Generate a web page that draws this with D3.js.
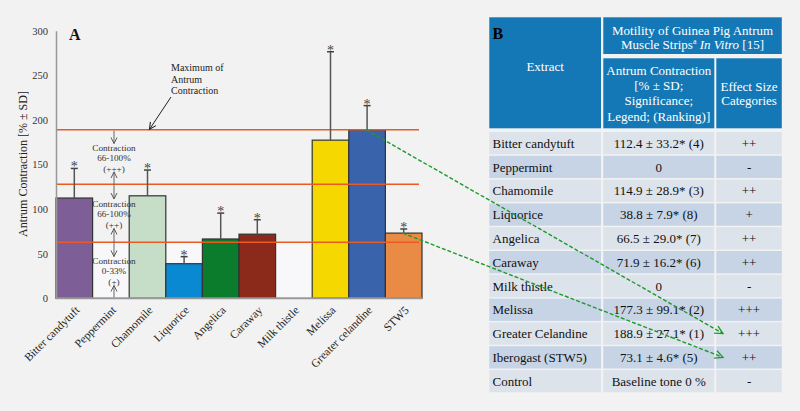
<!DOCTYPE html>
<html><head><meta charset="utf-8">
<script src="https://cdn.jsdelivr.net/npm/d3@7"></script>
<style>body{margin:0;background:#f2f2f2;} svg{display:block;}</style>
</head><body><svg id="c" width="800" height="411"></svg>
<script>
// ---- Data ----
const categories = ["Bitter candytuft","Peppermint","Chamomile","Liquorice","Angelica","Caraway","Milk thistle","Melissa","Greater celandine","STW5"];
const meanValues = [112.4, 0, 114.9, 38.8, 66.5, 71.9, 0, 177.3, 188.9, 73.1];
const sdValues   = [33.2, 0, 28.9, 7.9, 29.0, 16.2, 0, 99.1, 27.1, 4.6];
const significant = [true, false, true, true, true, true, false, true, true, true];
const barColors = ["#7e5e96","none","#c6ddc7","#0a89d3","#0b7c2c","#8b2a1a","none","#f4d800","#3963aa","#ea8b45"];
const yTicks = [0, 50, 100, 150, 200, 250, 300];
const thresholdLevels = [188.9, 127.8, 62.8];
const zoneLabels = [["Contraction","66-100%","(+++)"],["Contraction","66-100%","(++)"],["Contraction","0-33%","(+)"]];

const tableExtracts = ["Bitter candytuft","Peppermint","Chamomile","Liquorice","Angelica","Caraway","Milk thistle","Melissa","Greater Celandine","Iberogast (STW5)","Control"];
const tableContraction = ["112.4 ± 33.2* (4)","0","114.9 ± 28.9* (3)","38.8 ± 7.9* (8)","66.5 ± 29.0* (7)","71.9 ± 16.2* (6)","0","177.3 ± 99.1* (2)","188.9 ± 27.1* (1)","73.1 ± 4.6* (5)","Baseline tone 0 %"];
const tableEffect = ["++","-","++","+","++","++","-","+++","+++","++","-"];

// ---- Setup ----
const svg = d3.select("#c");
const serif = "'Liberation Serif','Times New Roman',serif";
svg.append("rect").attr("width",800).attr("height",411).attr("fill","#f2f2f2");

const defs = svg.append("defs");
function mk(id, color, size){
  defs.append("marker").attr("id",id).attr("viewBox","-10 -6 12 12")
    .attr("refX",0).attr("refY",0).attr("markerWidth",size).attr("markerHeight",size)
    .attr("markerUnits","userSpaceOnUse").attr("orient","auto-start-reverse")
    .append("path").attr("d","M-8,-4L0,0L-8,4").attr("fill","none")
    .attr("stroke",color).attr("stroke-width",1.3);
}
mk("agray","#555",9);
mk("ablack","#222",10);
mk("agreen","#1e9a2c",12);

const x = d3.scaleBand().domain(categories).range([56, 422]).padding(0);
const y = d3.scaleLinear().domain([0, 300]).range([298.3, 30.7]);
const bw = x.bandwidth();

// light lower zone
svg.append("rect").attr("x",56).attr("width",366).attr("y",y(thresholdLevels[2])).attr("height",y(0)-y(thresholdLevels[2]))
  .attr("fill","#f8f8fa");

// Bars
svg.append("g").selectAll("rect").data(categories).join("rect")
  .filter((d,i)=>meanValues[i]>0)
  .attr("x", d=>x(d)).attr("width", bw)
  .attr("y", d=>y(meanValues[categories.indexOf(d)]))
  .attr("height", d=>y(0)-y(meanValues[categories.indexOf(d)]))
  .attr("fill", d=>barColors[categories.indexOf(d)])
  .attr("stroke","#333").attr("stroke-width",1.2);

// Threshold lines
svg.append("g").selectAll("line").data(thresholdLevels).join("line")
  .attr("x1",56).attr("x2",419).attr("y1",d=>y(d)).attr("y2",d=>y(d))
  .attr("stroke","#ea5a22").attr("stroke-width",1.6);

// Error bars + stars
const eb = svg.append("g");
categories.forEach((c,i)=>{
  if(meanValues[i]<=0) return;
  const cx = x(c)+bw/2, top = y(meanValues[i]+sdValues[i]), base = y(meanValues[i]);
  eb.append("line").attr("x1",cx).attr("x2",cx).attr("y1",base).attr("y2",top).attr("stroke","#555").attr("stroke-width",1.5);
  eb.append("line").attr("x1",cx-3.5).attr("x2",cx+3.5).attr("y1",top).attr("y2",top).attr("stroke","#444").attr("stroke-width",1.5);
  if(significant[i]) eb.append("text").attr("x",cx).attr("y",top+3).attr("text-anchor","middle")
    .attr("font-family",serif).attr("font-size",14).attr("fill","#444").text("*");
});

// Axes
const ya = svg.append("g").attr("transform","translate(56,0)")
  .call(d3.axisLeft(y).tickValues(yTicks).tickSize(0).tickSizeOuter(0).tickPadding(8));
ya.select(".domain").attr("stroke","#999").attr("stroke-width",1.5);
ya.selectAll("text").attr("font-family",serif).attr("font-size",10.5).attr("fill","#333");
svg.append("line").attr("x1",56).attr("x2",422).attr("y1",y(0)).attr("y2",y(0)).attr("stroke","#999").attr("stroke-width",2);

svg.append("text").attr("transform","translate(27,164) rotate(-90)").attr("text-anchor","middle")
  .attr("font-family",serif).attr("font-size",12).attr("fill","#222").text("Antrum Contraction [% ± SD]");

svg.append("g").selectAll("text").data(categories).join("text")
  .attr("transform", d=>`translate(${x(d)+bw/2+3},${308}) rotate(-45)`)
  .attr("text-anchor","end").attr("dy","0.35em")
  .attr("font-family",serif).attr("font-size",11.5).attr("fill","#222").text(d=>d);

// Panel label A
svg.append("text").attr("x",69).attr("y",40).attr("font-family",serif).attr("font-size",16)
  .attr("font-weight","bold").attr("fill","#111").text("A");

// Maximum annotation
const maxLbl = ["Maximum of","Antrum","Contraction"];
svg.append("g").selectAll("text").data(maxLbl).join("text")
  .attr("x",171).attr("y",(d,i)=>71+i*11.5).attr("font-family",serif).attr("font-size",10).attr("fill","#222").text(d=>d);
svg.append("line").attr("x1",171).attr("y1",97).attr("x2",149.5).attr("y2",y(thresholdLevels[0])-0.5)
  .attr("stroke","#222").attr("stroke-width",1).attr("marker-end","url(#ablack)");

// Zone annotations in Peppermint slot
const zx = 114;
const zg = svg.append("g");
function arrow(y1,y2,both){
  const l = zg.append("line").attr("x1",zx).attr("x2",zx).attr("y1",y1).attr("y2",y2)
    .attr("stroke","#666").attr("stroke-width",1).attr("marker-end","url(#agray)");
  if(both) l.attr("marker-start","url(#agray)");
}
arrow(y(thresholdLevels[0])+1, 143.5, false);
arrow(172, 199, true);
arrow(228.5, 256.5, true);
arrow(y(0)-1, 285.5, false);
const zoneY = [151, 207, 264];
zoneLabels.forEach((lines,k)=>{
  lines.forEach((t,j)=>{
    zg.append("text").attr("x",zx).attr("y",zoneY[k]+j*10.3).attr("text-anchor","middle")
      .attr("font-family",serif).attr("font-size",9.2).attr("fill","#333").text(t);
  });
});

// ---- Table B ----
const colX = [489.3, 603.3, 716.3];
const colW = [111.7, 111, 65.5];
const headBlue = "#1478b6";
const tb = svg.append("g");
tb.append("rect").attr("x",colX[0]).attr("y",17.3).attr("width",colW[0]).attr("height",111).attr("fill",headBlue);
tb.append("rect").attr("x",colX[1]).attr("y",17.3).attr("width",colX[2]+colW[2]-colX[1]).attr("height",36.7).attr("fill",headBlue);
tb.append("rect").attr("x",colX[1]).attr("y",58.3).attr("width",colW[1]).attr("height",70).attr("fill",headBlue);
tb.append("rect").attr("x",colX[2]).attr("y",58.3).attr("width",colW[2]).attr("height",70).attr("fill",headBlue);

function ht(xc, yb, txt){
  return tb.append("text").attr("x",xc).attr("y",yb).attr("text-anchor","middle")
    .attr("font-family",serif).attr("font-size",13).attr("fill","#fff").text(txt);
}
tb.append("text").attr("x",492.5).attr("y",39).attr("font-family",serif).attr("font-size",16)
  .attr("font-weight","bold").attr("fill","#000").text("B");
ht(colX[0]+colW[0]/2, 71, "Extract");
const hx = colX[1] + (colX[2]+colW[2]-colX[1])/2;
ht(hx, 34.5, "Motility of Guinea Pig Antrum");
const h2 = ht(hx, 49, "");
h2.append("tspan").text("Muscle Strips");
h2.append("tspan").attr("font-size",8).attr("dy",-5).text("a");
h2.append("tspan").attr("dy",5).text(" ");
h2.append("tspan").attr("font-style","italic").text("In Vitro");
h2.append("tspan").text(" [15]");
const sub1 = ["Antrum Contraction","[% ± SD;","Significance;","Legend; (Ranking)]"];
sub1.forEach((t,j)=>ht(colX[1]+colW[1]/2, 75+j*15.2, t));
["Effect Size","Categories"].forEach((t,j)=>ht(colX[2]+colW[2]/2, 90.5+j*14.5, t));

const rowY0 = 132, rowStep = 23.8, rowH = 22.3;
const rows = tb.append("g").selectAll("g").data(tableExtracts).join("g")
  .attr("transform",(d,i)=>`translate(0,${rowY0+i*rowStep})`);
[0,1,2].forEach(c=>{
  rows.append("rect").attr("x",colX[c]).attr("width",colW[c]).attr("height",rowH)
    .attr("fill",(d,i)=> i%2===0 ? "#dde3ea" : "#c6d4e6");
});
rows.append("text").attr("x",492.5).attr("y",rowH/2+4.6).attr("font-family",serif).attr("font-size",13)
  .attr("fill","#111").text(d=>d);
rows.append("text").attr("x",colX[1]+colW[1]/2).attr("y",rowH/2+4.6).attr("text-anchor","middle")
  .attr("font-family",serif).attr("font-size",13).attr("fill","#111").text((d,i)=>tableContraction[i]);
rows.append("text").attr("x",colX[2]+colW[2]/2).attr("y",rowH/2+4.6).attr("text-anchor","middle")
  .attr("font-family",serif).attr("font-size",13).attr("fill","#111").text((d,i)=>tableEffect[i]);

// ---- Green dashed connector arrows ----
const links = [["Greater celandine","Greater Celandine"],["STW5","Iberogast (STW5)"]];
links.forEach(([c,r])=>{
  const i = categories.indexOf(c), k = tableExtracts.indexOf(r);
  svg.append("line").attr("x1",x(c)+bw/2-1).attr("y1",y(meanValues[i]))
    .attr("x2",723).attr("y2",rowY0+k*rowStep+rowH/2)
    .attr("stroke","#1e9a2c").attr("stroke-width",1.4).attr("stroke-dasharray","4,2")
    .attr("marker-end","url(#agreen)");
});
</script></body></html>
